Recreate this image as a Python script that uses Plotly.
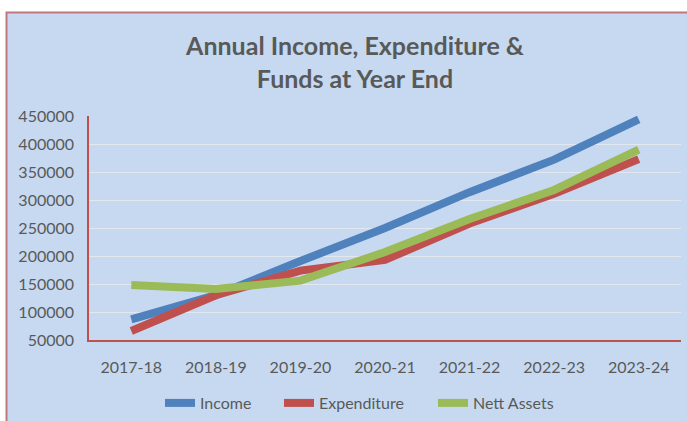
import plotly.graph_objects as go

years = ["2017-18", "2018-19", "2019-20", "2020-21", "2021-22", "2022-23", "2023-24"]
income = [87000, 130000, 191000, 250000, 314000, 372000, 444000]
expenditure = [66000, 130000, 174000, 193000, 258000, 311000, 373000]
nett_assets = [148000, 141000, 156000, 207000, 266000, 318000, 390000]

series = [
    ("Income", income, "#4F81BD", "legend", 160),
    ("Expenditure", expenditure, "#C0504D", "legend2", 279),
    ("Nett Assets", nett_assets, "#9BBB59", "legend3", 433),
]

W, H = 687, 421
L, R, T, B = 89, 6, 116, 81
pw, ph = W - L - R, H - T - B

def px_x(p):
    return (p - L) / pw

def px_y(p):
    return (H - B - p) / ph

fig = go.Figure()
for name, vals, col, lg, _ in series:
    fig.add_trace(go.Scatter(x=years, y=vals, name=name, mode="lines", legend=lg,
                             line=dict(color=col, width=8)))

font = "Lato, 'Open Sans', sans-serif"
legends = {}
for name, vals, col, lg, lx in series:
    legends[lg] = dict(orientation="h", x=px_x(lx), xanchor="left", y=px_y(403),
                       yanchor="middle", bgcolor="rgba(0,0,0,0)",
                       font=dict(size=16, color="#595959"))

fig.update_layout(
    width=W, height=H,
    margin=dict(l=L, r=R, t=T, b=B, autoexpand=False),
    paper_bgcolor="white",
    plot_bgcolor="rgba(0,0,0,0)",
    font=dict(family=font, color="#595959", size=16),
    title=dict(text="<b>Annual Income, Expenditure &<br>Funds at Year End</b>",
               x=(355) / W, xanchor="center", y=1 - 55 / H, yanchor="middle",
               font=dict(size=25, color="#595959", family=font)),
    showlegend=True,
    **legends,
    xaxis=dict(type="category", range=[-0.5, 6.5], showgrid=False, showline=True,
               linecolor="#C0504D", linewidth=1.5, ticks="", ticklabelstandoff=12,
               tickfont=dict(size=16, color="#595959"), zeroline=False),
    yaxis=dict(range=[50000, 450000], dtick=50000, tick0=50000, showgrid=True,
               gridcolor="#E3E8EE", gridwidth=1, showline=True, linecolor="#C0504D",
               linewidth=1.5, ticks="", tickformat="d", ticklabelstandoff=10,
               tickfont=dict(size=16, color="#595959"), zeroline=False),
    shapes=[dict(type="rect", xref="paper", yref="paper", layer="below",
                 x0=px_x(6.5), x1=px_x(720), y0=px_y(460), y1=px_y(12.5),
                 fillcolor="#C6D9F1", line=dict(color="#C0787C", width=2))],
)

fig.write_html("out.html", config={"displayModeBar": False},
               post_script="document.body.style.margin='0';document.body.style.overflow='hidden';")
